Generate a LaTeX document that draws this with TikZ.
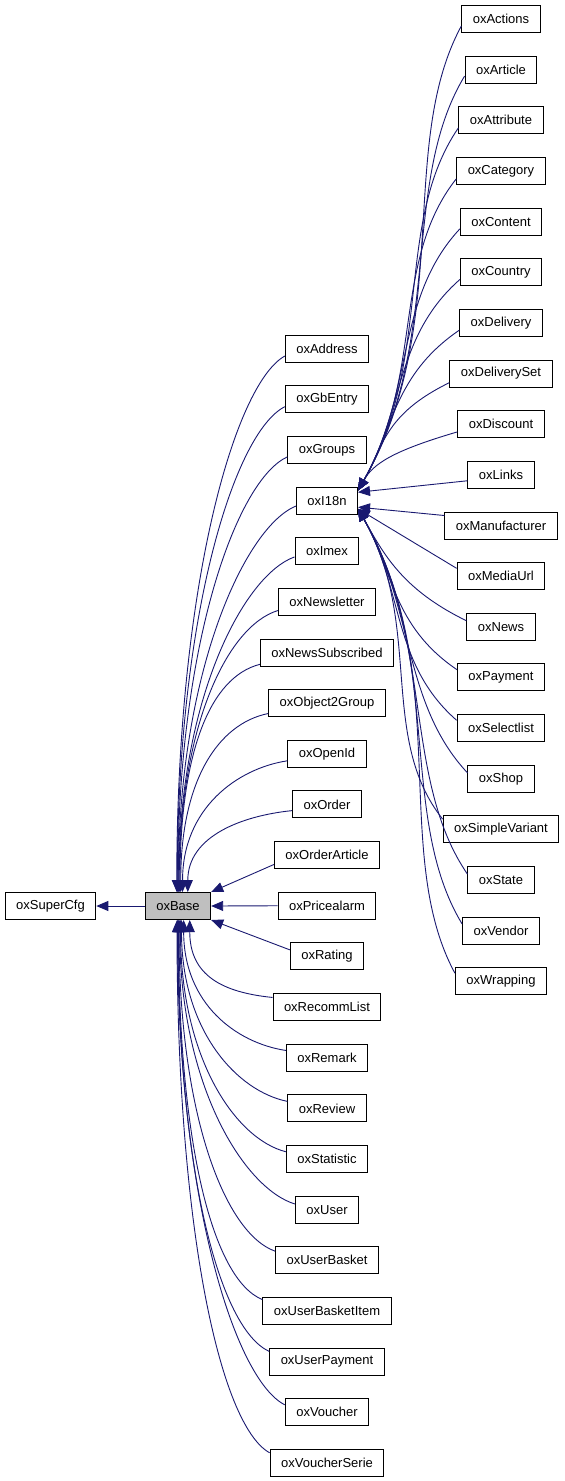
\documentclass[tikz,border=0pt]{standalone}
\usepackage{fontspec}
\setmainfont{Liberation Sans}
\usetikzlibrary{arrows.meta}
\definecolor{edgeblue}{RGB}{25,25,112}

\tikzset{
  cls/.style={draw=black, line width=1pt, minimum height=27pt, inner xsep=11pt, inner ysep=2pt,
    font=\fontsize{13}{15}\selectfont},
  inh/.style={draw=edgeblue, line width=0.9pt, -{Triangle[length=12pt,width=10pt]}},
  bendl/.style={to path={.. controls +(-50,{-0.05*\dy}) and +(0,{0.55*\dy}) .. (\tikztotarget)}},
  bendr/.style={to path={.. controls +(-65,{-0.25*\dy}) and +({0.2*abs(\dy)},{0.35*\dy}) .. (\tikztotarget)}},
  flat/.style={to path={-- (\tikztotarget)}}
}

\begin{document}
\begin{tikzpicture}[x=1pt, y=-1pt]
  \useasboundingbox (0,0) rectangle (565,1481);
  \node[cls] (oxSuperCfg) at (50.5,906) {oxSuperCfg};
  \node[cls, fill=black!25] (oxBase) at (178,906) {oxBase};
  \draw[inh] (oxBase) -- (oxSuperCfg);

  % classes derived from oxBase
  \foreach \name/\port/\how [count=\i from 0] in {oxAddress/95/bendl, oxGbEntry/93/bendl,
      oxGroups/91/bendl, oxI18n/89/bendl, oxImex/87/bendl, oxNewsletter/85/bendl,
      oxNewsSubscribed/82/bendl, oxObject2Group/79/bendl, oxOpenId/72/bendl, oxOrder/55/bendl,
      oxOrderArticle/north east/flat, oxPricealarm/east/flat, oxRating/south east/flat,
      oxRecommList/-50/bendl, oxRemark/-68/bendl, oxReview/-76/bendl, oxStatistic/-80/bendl,
      oxUser/-83/bendl, oxUserBasket/-86/bendl, oxUserBasketItem/-88/bendl,
      oxUserPayment/-90/bendl, oxVoucher/-92/bendl, oxVoucherSerie/-94/bendl}
    {\pgfmathsetmacro\dy{348.6+50.65*\i-906}
     \pgfmathtruncatemacro\from{\dy<-5 ? 190 : (\dy>5 ? 170 : 180)}
     \node[cls] (\name) at (327,{348.6+50.65*\i}) {\name};
     \draw[inh] (\name.\from) to[\how] (oxBase.\port);
    }

  % classes derived from oxI18n
  \foreach \name/\port/\how [count=\i from 0] in {oxActions/18/bendr, oxArticle/18/bendr,
      oxAttribute/18/bendr, oxCategory/18/bendr, oxContent/18/bendr, oxCountry/18/bendr,
      oxDelivery/18/bendr, oxDeliverySet/18/bendr, oxDiscount/18/bendr, oxLinks/15/flat,
      oxManufacturer/-12/flat, oxMediaUrl/-15/flat, oxNews/-15/bendr, oxPayment/-15/bendr,
      oxSelectlist/-15/bendr, oxShop/-15/bendr, oxSimpleVariant/-15/bendr, oxState/-15/bendr,
      oxVendor/-15/bendr, oxWrapping/-15/bendr}
    {\pgfmathsetmacro\dy{19+50.65*\i-500.5}
     \pgfmathtruncatemacro\from{\dy<0 ? 190 : 170}
     \node[cls] (\name) at (501,{19+50.65*\i}) {\name};
     \draw[inh] (\name.\from) to[\how] (oxI18n.\port);
    }
\end{tikzpicture}
\end{document}
